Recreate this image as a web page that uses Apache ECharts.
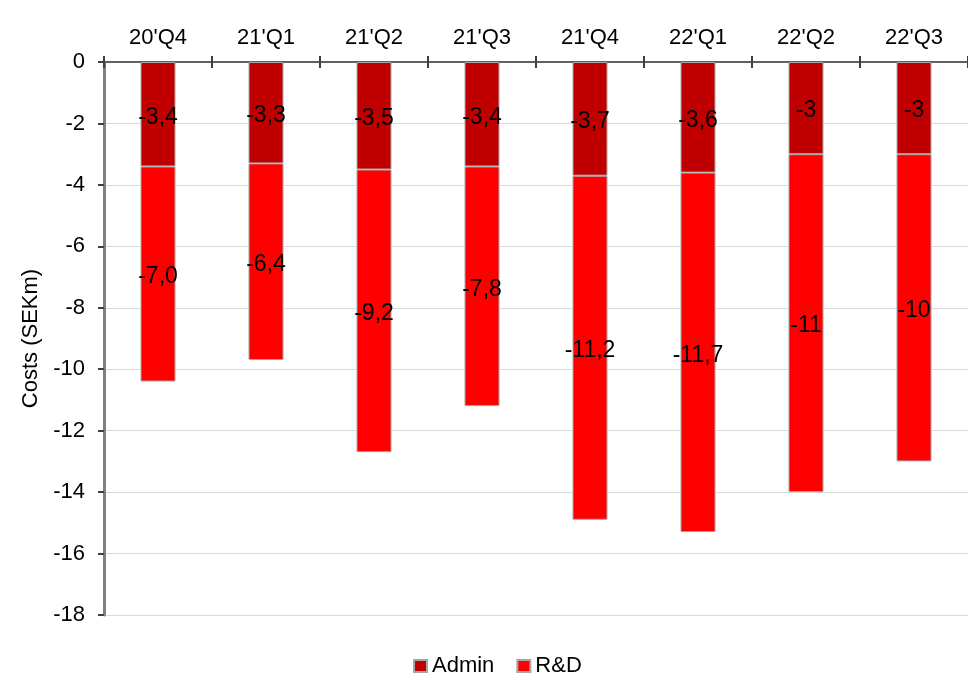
<!DOCTYPE html>
<html>
<head>
<meta charset="utf-8">
<script src="https://cdn.jsdelivr.net/npm/echarts@6/dist/echarts.min.js"></script>
<style>
  html, body { margin: 0; padding: 0; background: #fff; }
  #chart { width: 968px; height: 674px; }
</style>
</head>
<body>
<div id="chart"></div>
<script>
// Quarterly costs, SEKm (negative = cost)
const quarters = ["20'Q4", "21'Q1", "21'Q2", "21'Q3", "21'Q4", "22'Q1", "22'Q2", "22'Q3"];
const adminCosts = [-3.4, -3.3, -3.5, -3.4, -3.7, -3.6, -3, -3];
const rdCosts = [-7.0, -6.4, -9.2, -7.8, -11.2, -11.7, -11, -10];
// decimals shown in each label
const adminDecimals = [1, 1, 1, 1, 1, 1, 0, 0];
const rdDecimals = [1, 1, 1, 1, 1, 1, 0, 0];
const yTicks = { min: -18, max: 0, step: 2 };

const FONT = 'Liberation Sans, Arial, sans-serif';

function fmt(decimals) {
  return p => p.value.toFixed(decimals[p.dataIndex]).replace('.', ',');
}

const chart = echarts.init(document.getElementById('chart'));

const labelStyle = {
  show: true,
  position: 'inside',
  offset: [0, 3],
  color: '#000',
  fontFamily: FONT,
  fontSize: 23
};

chart.setOption({
  animation: false,
  grid: { left: 104, right: -6, top: 62, bottom: 59 },
  legend: {
    top: 650,
    left: 408,
    itemWidth: 13,
    itemHeight: 12,
    itemGap: 22,
    icon: 'rect',
    textStyle: { fontFamily: FONT, fontSize: 22, color: '#000', padding: [0, 0, 0, 0] },
    data: ['Admin', 'R&D']
  },
  xAxis: [
    {
      type: 'category',
      position: 'top',
      data: quarters,
      axisLine: { lineStyle: { color: '#606060', width: 2 } },
      axisTick: { show: true, length: 6, lineStyle: { color: '#404040', width: 2 } },
      axisLabel: { fontFamily: FONT, fontSize: 22, color: '#000', margin: 13 },
      splitLine: { show: false }
    },
    {
      // inner half of the crossing ticks
      type: 'category',
      position: 'top',
      data: quarters,
      axisLine: { show: false },
      axisTick: { show: true, inside: true, length: 6, lineStyle: { color: '#404040', width: 2 } },
      axisLabel: { show: false },
      splitLine: { show: false }
    }
  ],
  yAxis: {
    type: 'value',
    min: yTicks.min,
    max: yTicks.max,
    interval: yTicks.step,
    name: 'Costs (SEKm)',
    nameLocation: 'middle',
    nameGap: 62,
    nameRotate: 90,
    nameTextStyle: { fontFamily: FONT, fontSize: 22, color: '#000' },
    axisLine: { show: true, lineStyle: { color: '#808080', width: 3 } },
    axisTick: { show: true, length: 6, lineStyle: { color: '#404040', width: 2 } },
    axisLabel: { fontFamily: FONT, fontSize: 22, color: '#000', margin: 19 },
    splitLine: { show: true, lineStyle: { color: '#d9d9d9', width: 1 } }
  },
  series: [
    {
      name: 'Admin',
      type: 'bar',
      stack: 'costs',
      barWidth: 35,
      data: adminCosts,
      itemStyle: { color: '#C00000', borderColor: '#a6a6a6', borderWidth: 1 },
      label: Object.assign({}, labelStyle, { formatter: fmt(adminDecimals) })
    },
    {
      name: 'R&D',
      type: 'bar',
      stack: 'costs',
      barWidth: 35,
      data: rdCosts,
      itemStyle: { color: '#FF0000', borderColor: '#a6a6a6', borderWidth: 1 },
      label: Object.assign({}, labelStyle, { formatter: fmt(rdDecimals) })
    }
  ]
});
</script>
</body>
</html>
